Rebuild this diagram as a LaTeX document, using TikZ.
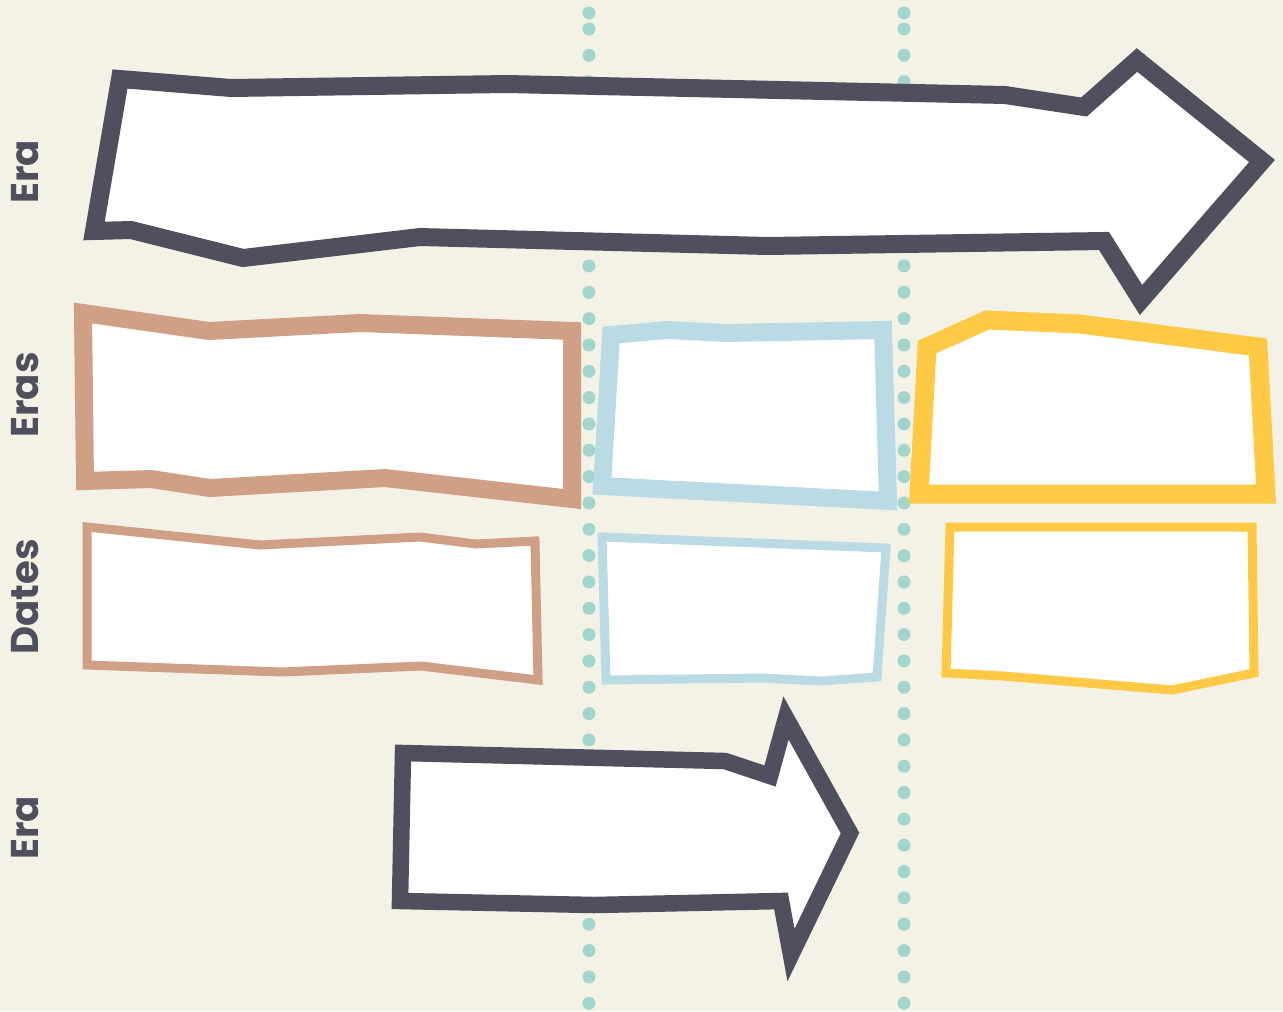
\documentclass[tikz,border=0pt]{standalone}
\usepackage{fontspec}
\setmainfont{Poppins}
\usepackage{tikz}

\definecolor{paper}{HTML}{F4F2E6}
\definecolor{ink}{HTML}{4F4F5E}
\definecolor{clay}{HTML}{CF9F86}
\definecolor{sky}{HTML}{BADBE4}
\definecolor{sun}{HTML}{FEC944}
\definecolor{mint}{HTML}{A2D6CC}

\begin{document}
\begin{tikzpicture}[x=0.02cm, y=-0.02cm, line join=miter,
    frame/.style={draw=#1, fill=white},
    rowlabel/.style={rotate=90, text=ink, font=\bfseries\fontsize{22}{24}\selectfont}]
    \fill[paper] (0,0) rectangle (1283,1011);
    \useasboundingbox (0,0) rectangle (1283,1011);

    % dotted column guides
    \foreach \gx in {589, 904} {
        \fill[mint] (\gx,13) circle (0.13cm);
        \foreach \i in {0,...,37}
            \fill[mint] (\gx,29+26.33*\i) circle (0.13cm);
    }

    % long era arrow
    \draw[frame=ink, line width=0.36cm] (120,79) -- (231,88) -- (507,84) -- (1005,95) -- (1084,107)
        -- (1137,60) -- (1262,161) -- (1141,300) -- (1104,241) -- (767,246) -- (420,237)
        -- (243,258) -- (131,230) -- (94,231) -- cycle;

    % eras
    \draw[frame=clay, line width=0.36cm] (83,313) -- (209,331) -- (360,323) -- (572,331) -- (572,499)
        -- (385,478) -- (210,488) -- (151,479) -- (85,481) -- cycle;
    \draw[frame=sky, line width=0.36cm] (611,335) -- (667,330) -- (727,333) -- (883,330) -- (888,501)
        -- (602,486) -- cycle;
    \draw[frame=sun, line width=0.38cm] (927,347) -- (987,320) -- (1080,324) -- (1258,347) -- (1266,494)
        -- (919,494) -- cycle;

    % dates
    \draw[frame=clay, line width=0.18cm] (87,527) -- (260,545) -- (420,537) -- (476,544) -- (535,541)
        -- (538,680) -- (421,666) -- (282,672) -- (87,665) -- cycle;
    \draw[frame=sky, line width=0.18cm] (602,537) -- (886,548) -- (877,677) -- (822,681) -- (762,678)
        -- (606,680) -- cycle;
    \draw[frame=sun, line width=0.18cm] (950,527) -- (1252,527) -- (1254,673) -- (1172,690) -- (1003,676)
        -- (946,673) -- cycle;

    % short era arrow
    \draw[frame=ink, line width=0.33cm] (403,753) -- (725,761) -- (770,776) -- (786,718) -- (850,833)
        -- (791,955) -- (781,901) -- (594,905) -- (400,901) -- cycle;

    \node[rowlabel] (lblera) at (25,172) {Era};
    \node[rowlabel] (lbleras) at (25,395) {Eras};
    \node[rowlabel] (lbldates) at (25,597) {Dates};
    \node[rowlabel] (lblera2) at (25,828) {Era};
\end{tikzpicture}
\end{document}
